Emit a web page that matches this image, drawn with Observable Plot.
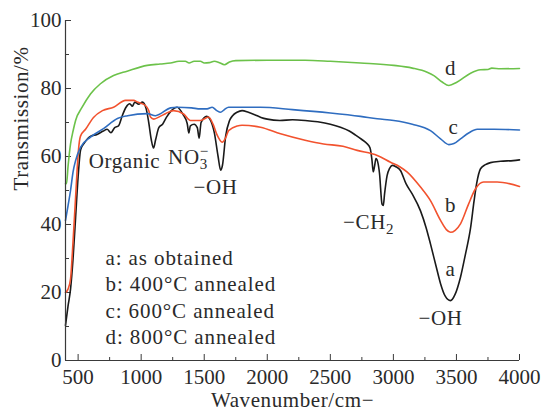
<!DOCTYPE html>
<html>
<head>
<meta charset="utf-8">
<script src="https://cdn.jsdelivr.net/npm/d3@7"></script>
<script src="https://cdn.jsdelivr.net/npm/@observablehq/plot@0.6"></script>
<style>
  html, body { margin: 0; padding: 0; background: #fff; }
</style>
</head>
<body>
<div id="chart"></div>
<script>
// ---- Data ----
// a: as obtained (black)
const waveA = [400,420,440,460,480,500,520,550,600,650,700,730,760,790,820,850,880,910,930,950,980,1010,1040,1060,1080,1098,1115,1140,1170,1200,1240,1285,1330,1365,1378,1390,1420,1445,1460,1475,1520,1545,1580,1610,1630,1645,1670,1700,1725,1760,1800,1850,1900,1950,2000,2100,2200,2300,2400,2500,2580,2650,2700,2750,2790,2815,2830,2840,2850,2862,2875,2890,2910,2920,2930,2950,2970,2990,3020,3056,3100,3149,3215,3260,3294,3340,3374,3410,3453,3490,3532,3570,3612,3640,3660,3691,3730,3770,3850,3950,4000];
const transA = [10.3,16,21,30,42,54,62,64,66,66.5,67.5,68,67,68.5,69,72,74.5,75.5,74.8,76,75.4,76,74,70,65,62.5,65,68.5,69.5,71.5,73.5,74.5,72.5,69.7,66.9,69,69.5,68.5,65.4,70,71.8,71,67,60,56,57.5,66,70.5,72,73,73.5,73,72.3,71.5,71,70.6,70.8,70.6,70.2,69.5,68.6,67.5,66.3,65,63.8,62.5,59,55.5,57,59.4,58.5,55,46,45.6,49,54.4,56.5,57.4,57,55.9,52,49,44,39,34.3,27.5,22.6,19,17.6,19.5,24.5,31,39,47,52,56.4,57.6,58.2,58.6,58.8,59];
// b: 400°C annealed (red)
const waveB = [400,420,440,455,480,503,519,559,622,693,781,876,940,971,1034,1060,1074,1100,1150,1193,1257,1337,1391,1471,1534,1570,1600,1643,1670,1693,1762,1800,1946,2105,2300,2446,2600,2713,2872,2977,3050,3110,3215,3294,3374,3420,3453,3490,3532,3596,3651,3715,3823,4000];
const transB = [20,21,24,32,48,62,66,68,71.5,73.5,74.5,76.5,76.5,76,75,73.5,71.6,71,71.8,72.6,73.5,72.5,70.6,70.6,71.6,69.5,66.5,64.2,65.5,67.6,69,69.2,68.6,66.7,64.8,63.7,63,61.8,60.3,58.3,57,55.4,51,47,41.2,38.5,37.7,38.3,40.2,46,50.5,52.5,52.5,51.2];
// c: 600°C annealed (blue)
const waveC = [400,420,440,460,480,519,598,701,812,892,1050,1114,1233,1285,1400,1470,1523,1563,1600,1629,1660,1693,1946,2200,2500,2739,2872,3003,3150,3294,3374,3440,3480,3532,3600,3665,3800,4000];
const transC = [41.2,45.5,50,55.5,58.8,62.7,65.7,68.2,71.2,72,72.6,72,74.3,74.5,74.3,74,74,74.5,73.5,73,73.8,74.5,74.5,73.8,72.8,71.8,71.1,70.6,69.5,67.6,65.2,63.5,63.8,65.2,67,68,68,67.8];
// d: 800°C annealed (green)
const waveD = [400,408,420,440,460,480,532,598,677,781,889,1048,1150,1233,1300,1350,1380,1420,1470,1500,1540,1580,1620,1660,1700,1750,2000,2300,2500,2739,3003,3150,3268,3321,3387,3440,3506,3612,3691,3750,3780,3850,4000];
const transD = [52,52,57,63.7,67.5,70.6,74.5,78.4,81.4,83.8,85.1,86.8,87.2,87.5,88,88,87.5,88,88,87.5,87.6,88,87.6,87,87.8,88.2,88.3,88.3,88,87.5,86.8,86,84.8,83.8,81.9,80.9,81.9,84.5,85.5,85.6,86,85.8,85.9];

const seriesNames = ["a", "b", "c", "d"];
const seriesColors = ["#1a1a1a", "#f2522e", "#2f6dc0", "#6cc24a"];
const legendLabels = ["a: as obtained", "b: 400°C annealed", "c: 600°C annealed", "d: 800°C annealed"];
const legendWave = [717, 717, 717, 717];
const legendTrans = [30, 22.3, 14.4, 6.7];

// annotations
const annoText = ["Organic", "NO₃⁻", "−OH", "−CH₂", "−OH", "a", "b", "c", "d"];
const annoWave = [868, 1375, 1590, 2803, 3374, 3453, 3453, 3477, 3453];
const annoTrans = [58.5, 59.7, 50.9, 40.6, 12.4, 26.8, 45.6, 68.5, 85.9];

const xMajor = [500,1000,1500,2000,2500,3000,3500,4000];
const xMinor = [750,1250,1750,2250,2750,3250,3750];
const yMajor = [0,20,40,60,80,100];
const yMinor = [10,30,50,70,90];

const xTitle = "Wavenumber/cm−";
const yTitle = "Transmission/%";

// ---- build table ----
const waves = [waveA, waveB, waveC, waveD];
const trans = [transA, transB, transC, transD];
const rows = [];
seriesNames.forEach((s, i) => waves[i].forEach((w, j) => rows.push({series: s, wave: w, t: trans[i][j]})));
const annos = annoText.map((t, i) => ({t, w: annoWave[i], v: annoTrans[i]}));
const legend = legendLabels.map((t, i) => ({t, w: legendWave[i], v: legendTrans[i]}));

const axisColor = "#3a3a3a";
const textColor = "#2a2a2a";
const chart = Plot.plot({
  width: 544,
  height: 412,
  marginLeft: 65,
  marginRight: 25,
  marginTop: 20,
  marginBottom: 52,
  x: {domain: [400, 4000]},
  y: {domain: [0, 100]},
  color: {domain: seriesNames, range: seriesColors},
  style: {fontFamily: "'Liberation Serif', 'DejaVu Serif', serif", fontSize: "21px", color: textColor, background: "#fff"},
  marks: [
    Plot.axisX({ticks: xMajor, tickSize: 0, tickPadding: 9, tickFormat: d => String(d), label: null}),
    Plot.axisY({ticks: yMajor, tickSize: 0, tickPadding: 4, tickFormat: d => String(d), label: null}),
    Plot.tickX(xMajor, {x: d => d, insetTop: 334, stroke: axisColor}),
    Plot.tickX(xMinor, {x: d => d, insetTop: 337, stroke: axisColor}),
    Plot.tickY(yMajor, {y: d => d, insetRight: 448, stroke: axisColor}),
    Plot.tickY(yMinor, {y: d => d, insetRight: 450, stroke: axisColor}),
    Plot.line(rows, {x: "wave", y: "t", z: "series", stroke: "series", strokeWidth: 1.6, curve: "monotone-x"}),
    Plot.ruleX([400], {stroke: axisColor, strokeWidth: 1.2}),
    Plot.ruleY([0], {stroke: axisColor, strokeWidth: 1.2}),
    Plot.text(annos, {x: "w", y: "v", text: "t", fill: textColor, fontSize: 21, className: "anno"}),
    Plot.text(legend, {x: "w", y: "v", text: "t", textAnchor: "start", fill: textColor, fontSize: 21, className: "legendtext"}),
    Plot.text([yTitle], {frameAnchor: "left", dx: -44, rotate: -90, fill: textColor, fontSize: 21, className: "ytitle"}),
    Plot.text([xTitle], {frameAnchor: "bottom", dy: 46, fill: textColor, fontSize: 21, className: "xtitle"})
  ]
});

// letter spacing to approximate the wider reference face
d3.select(chart).selectAll(".legendtext text").attr("letter-spacing", "0.9px");
d3.select(chart).selectAll(".anno text, .xtitle text, .ytitle text").attr("letter-spacing", "0.6px");

// typeset sub/superscripts in the annotations
d3.select(chart).selectAll("text").each(function() {
  const t = d3.select(this);
  const s = this.textContent;
  if (s === "NO₃⁻") {
    t.text("NO");
    t.append("tspan").attr("font-size", 15).attr("dy", 5).text("3");
    t.append("tspan").attr("font-size", 15).attr("dx", -8).attr("dy", -13).text("−");
  } else if (s === "−CH₂") {
    t.text("−CH");
    t.append("tspan").attr("font-size", 15).attr("dy", 5).text("2");
  }
});

document.getElementById("chart").appendChild(chart);
</script>
</body>
</html>
